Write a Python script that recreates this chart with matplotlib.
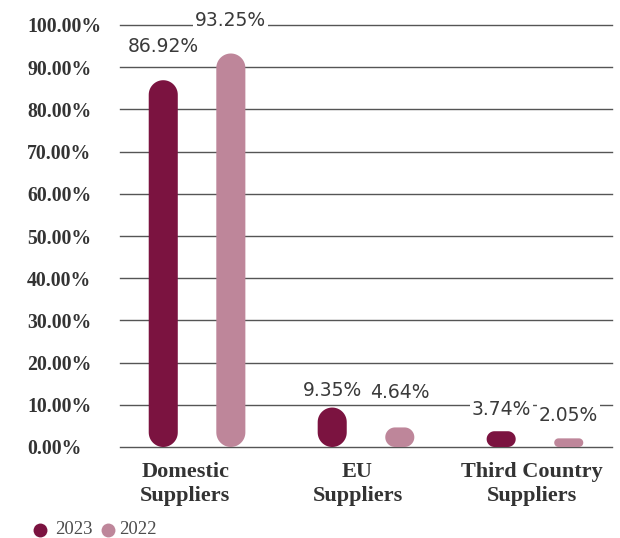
import numpy as np
import matplotlib
matplotlib.use("Agg")
import matplotlib.pyplot as plt
from matplotlib.patches import Polygon
from matplotlib.lines import Line2D

categories = ["Domestic\nSuppliers", "EU\nSuppliers", "Third Country\nSuppliers"]
years = ["2023", "2022"]
values_2023 = [86.92, 9.35, 3.74]
values_2022 = [93.25, 4.64, 2.05]
yticks = np.arange(0, 101, 10)

colors = {"2023": "#7b1340", "2022": "#be869a"}
text_col = "#333333"
# vertical offset of each value label above its bar (pixels)
label_off = {"2023": [34, 17, 22], "2022": [33, 35, 23]}
label_shift = [-0.07, -0.05, -0.02]

W, H = 620, 538
AX_L, AX_R, AX_T, AX_B = 120, 612, 25, 447
fig = plt.figure(figsize=(W / 100, H / 100), dpi=100)
ax = fig.add_axes([AX_L / W, (H - AX_B) / H, (AX_R - AX_L) / W, (AX_B - AX_T) / H])
xlim = (-0.456, 2.456)
ax.set_xlim(*xlim)
ax.set_ylim(0, 100)
for s in ax.spines.values():
    s.set_visible(False)

for t in yticks:
    ax.axhline(t, color="#555555", lw=1.0, zorder=0, clip_on=False)

# pixels per data unit, so the rounded ends come out circular
px_x = (AX_R - AX_L) / (xlim[1] - xlim[0])
px_y = (AX_B - AX_T) / 100


def pill(xc, w, h, color):
    r_px = min(w * px_x, h * px_y) / 2
    rx, ry = r_px / px_x, r_px / px_y
    th = np.linspace(0, np.pi, 30)
    top = np.column_stack([xc + (w / 2 - rx) * np.sign(np.cos(th)) + rx * np.cos(th),
                           h - ry + ry * np.sin(th)])
    bot = np.column_stack([xc - (w / 2 - rx) * np.sign(np.cos(th)) - rx * np.cos(th),
                           ry - ry * np.sin(th)])
    return Polygon(np.vstack([top, bot]), closed=True, facecolor=color,
                   edgecolor="none", zorder=2)


x = np.arange(len(categories))
bw = 0.172
offsets = {"2023": -0.2, "2022": 0.2}
series = {"2023": values_2023, "2022": values_2022}

for yr in years:
    for i, v in enumerate(series[yr]):
        xc = x[i] + offsets[yr]
        ax.add_patch(pill(xc, bw, v, colors[yr]))
        ax.annotate(
            f"{v:.2f}%", (xc, v), xytext=(0, label_off[yr][i]),
            textcoords="offset pixels", ha="center", va="center",
            fontsize=13.5, family="DejaVu Sans", color="#3a3a3a", zorder=3,
            bbox=dict(boxstyle="square,pad=0.1", facecolor="white", edgecolor="none"),
        )

ax.set_yticks(yticks)
ax.set_yticklabels([f"{t:.2f}%" for t in yticks], family="Liberation Serif",
                   fontweight="bold", fontsize=14.2, color=text_col, ha="left")
ax.tick_params(axis="y", length=0, pad=(AX_L - 27) * 0.72)
ax.set_xticks(x + np.array(label_shift))
ax.set_xticklabels(categories, family="Liberation Serif", fontweight="bold",
                   fontsize=16, color=text_col, linespacing=1.22)
ax.tick_params(axis="x", length=0, pad=11)

# legend drawn by hand at the bottom left
for cx, tx, yr in [(40, 55, "2023"), (108, 119, "2022")]:
    fig.add_artist(Line2D([cx / W], [(H - 530) / H], marker="o", ls="none",
                          markersize=10, markerfacecolor=colors[yr],
                          markeredgecolor="none"))
    fig.text(tx / W, (H - 530) / H, yr, family="Liberation Serif", fontsize=13.5,
             color="#4d4d4d", va="center", ha="left")

fig.savefig("out.png", dpi=100)
